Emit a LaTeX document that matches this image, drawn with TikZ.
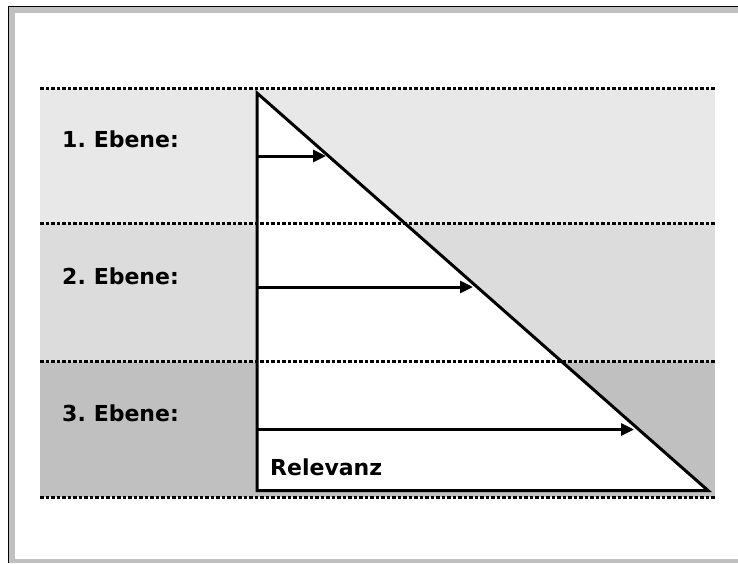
\documentclass[tikz,border=0pt]{standalone}
\usepackage{fontspec}
\setmainfont[WordSpace=0.7]{DejaVu Sans}
\usetikzlibrary{arrows.meta}
\definecolor{bandA}{HTML}{E8E8E8}
\definecolor{bandB}{HTML}{DCDCDC}
\definecolor{bandC}{HTML}{C0C0C0}
\definecolor{framegray}{HTML}{C0C0C0}
\begin{document}
\begin{tikzpicture}[x=1pt,y=-1pt,
  label/.style={anchor=base west,inner sep=0pt,font=\fontsize{22}{26}\selectfont\bfseries},
  divider/.style={line width=3pt,dash pattern=on 3.5pt off 2pt},
  pyramid/.style={draw=black,fill=white,line width=3pt,line join=miter},
  relarrow/.style={line width=3pt,-{Triangle[length=13pt,width=12pt]}}]
\useasboundingbox (0,0) rectangle (738,563);
\fill[white] (0,0) rectangle (738,563);
% frame with grey inner rim
\fill[framegray] (9.3,7.3) rectangle (738,12.7);
\fill[framegray] (9.3,7.3) rectangle (15,563);
\fill[framegray] (9.3,559) rectangle (738,563);
\draw[line width=1.4pt] (8.7,563) -- (8.7,6.7) -- (738,6.7);
% level bands
\fill[bandA] (40,89) rectangle (715,223.5);
\fill[bandB] (40,223.5) rectangle (715,361.5);
\fill[bandC] (40,361.5) rectangle (715,497);
% triangle
\draw[pyramid] (257,93) coordinate (apex) -- (708,490.5) coordinate (corner)
  -- (257,490.5) coordinate (base) -- cycle;
% dotted dividers
\draw[divider] (40,88.5) -- (715,88.5);
\draw[divider] (40,223.5) -- (715,223.5);
\draw[divider] (40,361.5) -- (715,361.5);
\draw[divider] (40,497.5) -- (715,497.5);
% relevance arrows
\coordinate (a1s) at (257,156);  \coordinate (a1e) at (326,156);
\coordinate (a2s) at (257,287);  \coordinate (a2e) at (473,287);
\coordinate (a3s) at (257,429.5);\coordinate (a3e) at (634,429.5);
\draw[relarrow] (a1s) -- (a1e);
\draw[relarrow] (a2s) -- (a2e);
\draw[relarrow] (a3s) -- (a3e);
% labels
\node[label] (l1) at (62,147) {1. Ebene:};
\node[label] (l2) at (62,284) {2. Ebene:};
\node[label] (l3) at (62,421.5) {3. Ebene:};
\node[label] (rel) at (270,475) {Relevanz};
\end{tikzpicture}
\end{document}
